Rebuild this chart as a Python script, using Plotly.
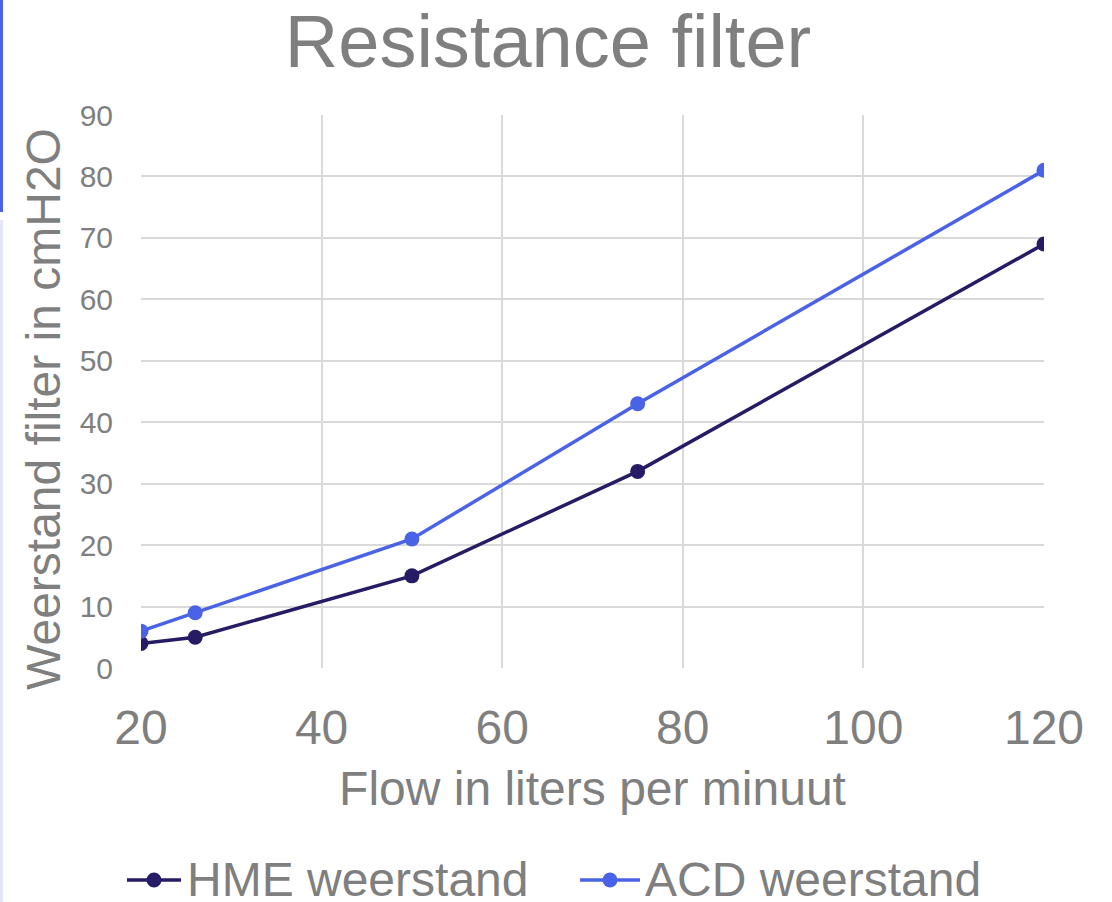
import plotly.graph_objects as go

flow = [20, 26, 50, 75, 120]
hme = [4, 5, 15, 32, 69]
acd = [6, 9, 21, 43, 81]
series_names = ["HME weerstand", "ACD weerstand"]
title_text = "Resistance filter"
x_title = "Flow in liters per minuut"
y_title = "Weerstand filter in cmH2O"

W, H = 1112, 902
ML, MR, MT, MB = 141, 68, 115, 234
PW, PH = W - ML - MR, H - MT - MB

GREY = "#7f7f7f"
FONT = "Liberation Sans, Arial, sans-serif"
C_HME = "#261c66"
C_ACD = "#4a63e6"
colors = [C_HME, C_ACD]

fig = go.Figure()
for name, vals, col in zip(series_names, [hme, acd], colors):
    fig.add_trace(go.Scatter(x=flow, y=vals, mode="lines+markers", name=name,
                             line=dict(color=col, width=3.5), marker=dict(size=15, color=col),
                             showlegend=False))


def px_x(p):
    return (p - ML) / PW


def px_y(p):
    return (H - MB - p) / PH


shapes = [
    dict(type="rect", xref="paper", yref="paper", x0=px_x(0), x1=px_x(3), y0=px_y(212), y1=px_y(0),
         fillcolor="#4a63e6", line=dict(width=0), layer="below"),
    dict(type="rect", xref="paper", yref="paper", x0=px_x(0), x1=px_x(3), y0=px_y(902), y1=px_y(220),
         fillcolor="#e4e6fa", line=dict(width=0), layer="below"),
]

annotations = [
    dict(text=y_title, textangle=-90, xref="paper", yref="paper", x=px_x(44), y=px_y(409),
         xanchor="center", yanchor="middle", showarrow=False,
         font=dict(size=48, color=GREY, family=FONT)),
]

# custom legend (line + marker + label)
leg_y = 879
leg_items = [(127, 181, 185), (580, 640, 643)]
for (lx0, lx1, tx), name, col in zip(leg_items, series_names, colors):
    shapes.append(dict(type="line", xref="paper", yref="paper", x0=px_x(lx0), x1=px_x(lx1),
                       y0=px_y(leg_y + 1), y1=px_y(leg_y + 1), line=dict(color=col, width=3.5)))
    cx = (lx0 + lx1) / 2
    r = 7.5
    shapes.append(dict(type="circle", xref="paper", yref="paper", x0=px_x(cx - r), x1=px_x(cx + r),
                       y0=px_y(leg_y + 1 + r), y1=px_y(leg_y + 1 - r), fillcolor=col, line=dict(width=0)))
    annotations.append(dict(text=name, xref="paper", yref="paper", x=px_x(tx), y=px_y(leg_y),
                            xanchor="left", yanchor="middle", showarrow=False,
                            font=dict(size=48, color=GREY, family=FONT)))

fig.update_layout(
    width=W, height=H,
    margin=dict(l=ML, r=MR, t=MT, b=MB, pad=0, autoexpand=False),
    paper_bgcolor="white", plot_bgcolor="white",
    font=dict(family=FONT, color=GREY),
    title=dict(text=title_text, font=dict(size=74, color=GREY, family=FONT),
               x=548 / W, xanchor="center", xref="container", y=1 - 41 / H, yanchor="middle"),
    xaxis=dict(range=[20, 120], tickmode="array", tickvals=[20, 40, 60, 80, 100, 120],
               showgrid=True, gridcolor="#d9d9d9", gridwidth=1.5, zeroline=False,
               showline=False, ticks="", tickfont=dict(size=48, color=GREY),
               ticklabelstandoff=27,
               title=dict(text=x_title, font=dict(size=48, color=GREY), standoff=18),
               fixedrange=True),
    yaxis=dict(range=[0, 90], tickmode="array", tickvals=list(range(0, 91, 10)),
               showgrid=True, gridcolor="#d9d9d9", gridwidth=1.5, zeroline=False,
               showline=False, ticks="", tickfont=dict(size=30, color=GREY),
               ticklabelstandoff=27,
               fixedrange=True),
    shapes=shapes,
    annotations=annotations,
    showlegend=False,
)

fig.write_html("out.html")
